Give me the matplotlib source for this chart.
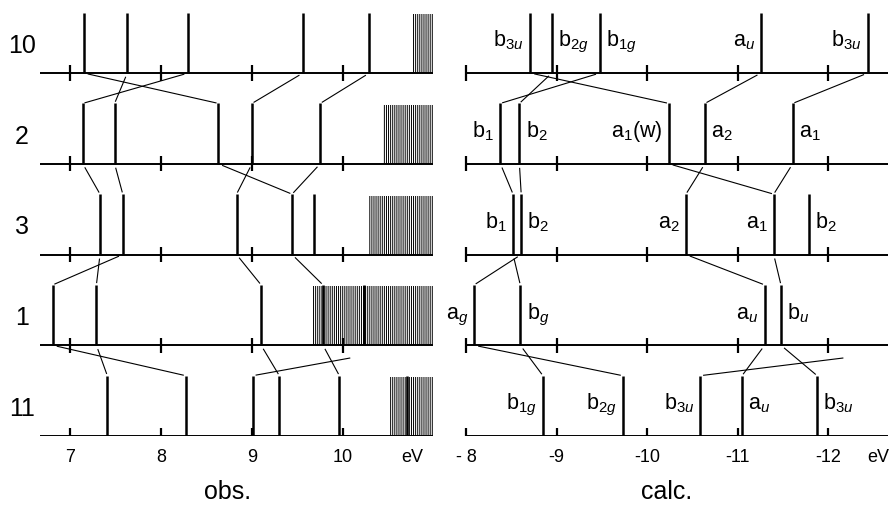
import math
import matplotlib.pyplot as plt

plt.rcParams["font.family"] = "Liberation Sans"
plt.rcParams["mathtext.fontset"] = "custom"
plt.rcParams["mathtext.rm"] = "Liberation Sans"
plt.rcParams["mathtext.it"] = "Liberation Sans:italic"
plt.rcParams["hatch.linewidth"] = 0.7

row_names = ["10", "2", "3", "1", "11"]

# observed ionisation energies (eV), one list per compound
obs_peaks = [
    [7.15, 7.63, 8.30, 9.56, 10.29],
    [7.14, 7.49, 8.63, 9.00, 9.75],
    [7.33, 7.58, 8.83, 9.44, 9.68],
    [6.81, 7.29, 9.10, 9.78, 10.23],
    [7.41, 8.27, 9.01, 9.30, 9.96, 10.70],
]
# unresolved band region at high energy
band_start = [10.77, 10.44, 10.29, 9.66, 10.52]
band_end = [10.99, 10.99, 10.99, 10.99, 10.99]

# calculated orbital energies (eV)
calc_peaks = [
    [-8.71, -8.95, -9.48, -11.26, -12.44],
    [-8.38, -8.59, -10.24, -10.64, -11.61],
    [-8.52, -8.61, -10.43, -11.40, -11.79],
    [-8.09, -8.60, -11.30, -11.48],
    [-8.85, -9.73, -10.59, -11.05, -11.88],
]
calc_labels = [
    [r"b$_{3u}$", r"b$_{2g}$", r"b$_{1g}$", r"a$_{u}$", r"b$_{3u}$"],
    [r"b$_{1}$", r"b$_{2}$", r"a$_{1}$(w)", r"a$_{2}$", r"a$_{1}$"],
    [r"b$_{1}$", r"b$_{2}$", r"a$_{2}$", r"a$_{1}$", r"b$_{2}$"],
    [r"a$_{g}$", r"b$_{g}$", r"a$_{u}$", r"b$_{u}$"],
    [r"b$_{1g}$", r"b$_{2g}$", r"b$_{3u}$", r"a$_{u}$", r"b$_{3u}$"],
]
label_side = [
    ["L", "R", "R", "L", "L"],
    ["L", "R", "L", "R", "R"],
    ["L", "R", "L", "L", "R"],
    ["L", "R", "L", "R"],
    ["L", "L", "L", "R", "R"],
]

# correlations between neighbouring rows: (index in upper row, index in lower row)
links = [
    [(0, 2), (1, 1), (2, 0), (3, 3), (4, 4)],
    [(0, 0), (1, 1), (2, 3), (3, 2), (4, 3)],
    [(0, 1), (1, 0), (2, 2), (3, 3)],
    [(0, 1), (1, 0), (2, 3), (3, 4)],
]
# open-ended line from the third peak of the last row
open_end_obs = 10.08
open_end_calc = -12.17

obs_ticks = [7, 8, 9, 10]
obs_ticklabels = ["7", "8", "9", "10"]
calc_ticks = [-8, -9, -10, -11, -12]
calc_ticklabels = ["- 8", "-9", "-10", "-11", "-12"]

BAR_H = 0.665
BAND_H = 0.65
TRIM = 0.045


def segment(ax, xa, ya, xb, yb, trim_a=TRIM, trim_b=0.02):
    dx, dy = xb - xa, yb - ya
    n = math.hypot(dx, dy)
    ux, uy = dx / n, dy / n
    ax.plot([xa + ux * trim_a, xb - ux * trim_b],
            [ya + uy * trim_a, yb - uy * trim_b],
            color="black", lw=0.8, solid_capstyle="butt")


def draw_panel(ax, peaks, ticks, x0, x1, open_end):
    for k, row in enumerate(peaks):
        base = -k
        ax.plot([x0, x1], [base, base], color="black", lw=1.4,
                solid_capstyle="butt")
        ax.vlines(ticks, base - 0.085, base + 0.085, color="black", lw=1.6)
        ax.vlines(row, base, base + BAR_H, color="black", lw=1.8)
    for k, pairs in enumerate(links):
        up, low = peaks[k], peaks[k + 1]
        for i, j in pairs:
            segment(ax, up[i], -k, low[j], -(k + 1) + BAR_H)
    # dangling correlation line toward the band region
    segment(ax, peaks[4][2], -4 + BAR_H, open_end, -3 - 0.14,
            trim_a=0.03, trim_b=0.0)


fig = plt.figure(figsize=(8.91, 5.07), dpi=100)
ax_obs = fig.add_axes([0.0, 0.140, 445 / 891, 0.860])
ax_calc = fig.add_axes([445 / 891, 0.140, 446 / 891, 0.860])

# observed spectra
draw_panel(ax_obs, obs_peaks, obs_ticks, 6.67, 10.99, open_end_obs)
for k in range(len(row_names)):
    ax_obs.bar(band_start[k], BAND_H, width=band_end[k] - band_start[k],
               bottom=-k, align="edge", fill=False, hatch="|" * 8,
               lw=0, edgecolor="black")
    ax_obs.text(6.47, -k + 0.3, row_names[k], ha="center", va="center",
                fontsize=18)
ax_obs.set_xlim(7 - 70 / 91, 7 + 375 / 91)

# calculated orbital energies
draw_panel(ax_calc, calc_peaks, calc_ticks, -8.0, -12.66, open_end_calc)
for k, row in enumerate(calc_peaks):
    for x, lab, side in zip(row, calc_labels[k], label_side[k]):
        off = -4.5 if side == "L" else 4.5
        ax_calc.annotate(lab, xy=(x, -k + 0.29), xytext=(off, 0),
                         textcoords="offset points",
                         ha="right" if side == "L" else "left",
                         va="baseline", fontsize=15.5)
ax_calc.set_xlim(-(8 - 21 / 90.5), -(8 + 425 / 90.5))

for ax, ticks, labels, ev_x, name, lx in [
    (ax_obs, obs_ticks, obs_ticklabels, 10.76, "obs.", 0.512),
    (ax_calc, calc_ticks, calc_ticklabels, -12.56, "calc.", 0.498),
]:
    ax.set_ylim(-4, 73 / 90.75)
    ax.set_xticks(ticks, labels)
    ax.set_yticks([])
    ax.tick_params(axis="x", length=0, pad=9, labelsize=13)
    for s in ax.spines.values():
        s.set_visible(False)
    ax.patch.set_alpha(0)
    ax.annotate("eV", xy=(ev_x, 0), xycoords=("data", "axes fraction"),
                xytext=(0, -9), textcoords="offset points",
                ha="center", va="top", fontsize=13)
    ax.set_xlabel(name, fontsize=18, va="baseline")
    ax.xaxis.set_label_coords(lx, -0.145)

fig.savefig("out.png", dpi=100)
